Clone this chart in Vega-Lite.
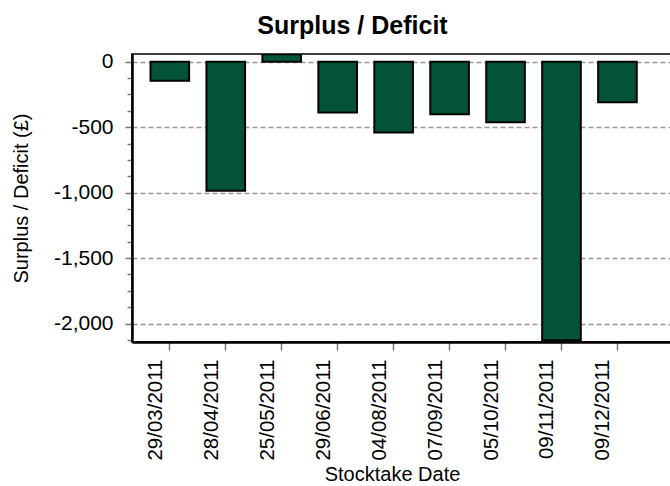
{
  "$schema": "https://vega.github.io/schema/vega-lite/v6.json",
  "autosize": "none",
  "width": 545,
  "height": 288,
  "padding": {"left": 132, "top": 54, "right": 0, "bottom": 144},
  "background": "white",
  "config": {
    "font": "Liberation Sans",
    "view": {"stroke": "black", "strokeWidth": 1.5}
  },
  "title": {
    "text": "Surplus / Deficit",
    "fontSize": 25,
    "fontWeight": "bold",
    "font": "Liberation Sans",
    "color": "black",
    "anchor": "middle",
    "dx": -52,
    "baseline": "alphabetic",
    "offset": -8
  },
  "data": {
    "values": [
      {"date": "29/03/2011", "value": -145},
      {"date": "28/04/2011", "value": -985},
      {"date": "25/05/2011", "value": 58},
      {"date": "29/06/2011", "value": -387},
      {"date": "04/08/2011", "value": -540},
      {"date": "07/09/2011", "value": -402},
      {"date": "05/10/2011", "value": -463},
      {"date": "09/11/2011", "value": -2128},
      {"date": "09/12/2011", "value": -310}
    ]
  },
  "mark": {"type": "bar", "fill": "#02533a", "stroke": "black", "strokeWidth": 2, "clip": true},
  "encoding": {
    "x": {
      "field": "date",
      "type": "ordinal",
      "sort": null,
      "scale": {"paddingInner": 0.31, "paddingOuter": 0.525, "align": 0.315, "round": false},
      "axis": {
        "title": "Stocktake Date",
        "titleFontSize": 20,
        "titleFontWeight": "normal",
        "titleColor": "black",
        "titlePadding": 4,
        "titleX": 260,
        "labelAngle": -90,
        "labelFontSize": 20.5,
        "labelColor": "black",
        "labelOffset": -14,
        "labelPadding": 9,
        "tickSize": 8,
        "tickColor": "#777777",
        "tickWidth": 1.5,
        "domainColor": "black",
        "domainWidth": 2.5
      }
    },
    "y": {
      "field": "value",
      "type": "quantitative",
      "scale": {"domain": [-2141, 59], "nice": false, "zero": false},
      "axis": {
        "title": "Surplus / Deficit (£)",
        "titleFontSize": 20,
        "titleFontWeight": "normal",
        "titleColor": "black",
        "titlePadding": 22,
        "values": [0, -125, -250, -375, -500, -625, -750, -875, -1000, -1125, -1250, -1375, -1500, -1625, -1750, -1875, -2000, -2125],
        "labelExpr": "datum.value % 500 === 0 ? replace(format(datum.value, ','), '\u2212', '-') : ''",
        "labelFontSize": 21,
        "labelColor": "black",
        "labelPadding": 12,
        "tickSize": {"condition": {"test": "datum.value % 500 === 0", "value": 7}, "value": 5},
        "tickColor": "#777777",
        "tickWidth": 1.5,
        "grid": true,
        "gridColor": "#999999",
        "gridDash": [5, 3],
        "gridWidth": 1.5,
        "gridOpacity": {"condition": {"test": "datum.value % 500 === 0", "value": 1}, "value": 0},
        "domainColor": "black",
        "domainWidth": 2.5
      }
    }
  }
}
